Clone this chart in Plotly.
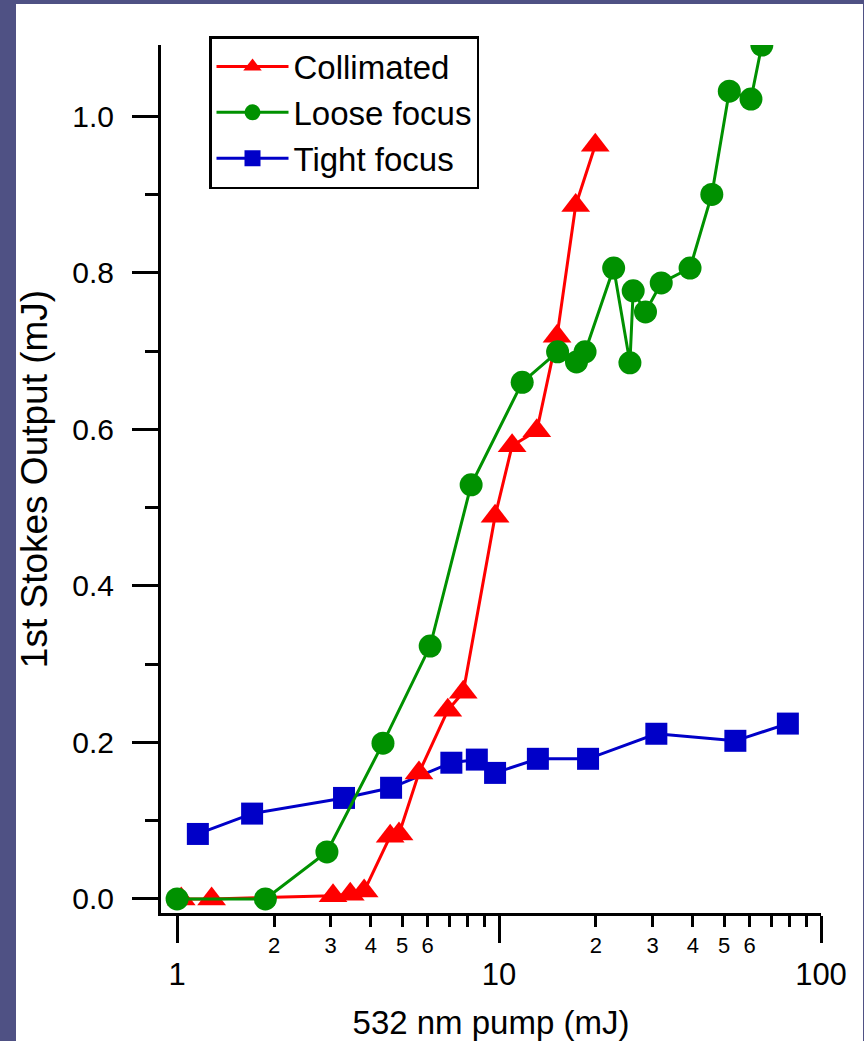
import plotly.graph_objects as go

# ---- data ----
coll_x = [1.03, 1.28, 3.05, 3.45, 3.81, 4.59, 4.89, 5.64, 6.93, 7.74, 9.72, 10.98, 13.1, 15.14, 17.3, 19.9]
coll_y = [0.0, 0.0, 0.004, 0.006, 0.01, 0.080, 0.083, 0.161, 0.241, 0.264, 0.489, 0.579, 0.598, 0.719, 0.886, 0.963]

loose_x = [1.0, 1.88, 2.92, 4.36, 6.11, 8.19, 11.8, 15.2, 17.4, 18.5, 22.7, 25.5, 26.1, 28.5, 31.9, 39.2, 45.8, 51.9, 60.6, 65.5]
loose_y = [0.0, 0.0, 0.060, 0.199, 0.323, 0.529, 0.660, 0.699, 0.686, 0.699, 0.806, 0.685, 0.777, 0.750, 0.787, 0.806, 0.900, 1.032, 1.022, 1.091]

tight_x = [1.16, 1.71, 3.30, 4.62, 7.11, 8.53, 9.72, 13.2, 18.9, 30.8, 54.2, 78.9]
tight_y = [0.083, 0.109, 0.129, 0.142, 0.174, 0.178, 0.161, 0.179, 0.179, 0.211, 0.202, 0.224]

x_major_vals = [1, 10, 100]
x_major_text = ["1", "10", "100"]
x_minor_vals = [2, 3, 4, 5, 6, 7, 8, 9, 20, 30, 40, 50, 60, 70, 80, 90]
x_minor_text = ["2", "3", "4", "5", "6", "", "", "", "2", "3", "4", "5", "6", "", "", ""]
y_tick_vals = [0.0, 0.2, 0.4, 0.6, 0.8, 1.0]

RED = "#ff0000"
GREEN = "#009100"
BLUE = "#0000c8"
BG = "#4f5184"
FONT = "Liberation Sans, Arial, sans-serif"

fig = go.Figure()
fig.add_trace(go.Scatter(x=tight_x, y=tight_y, name="Tight focus", mode="lines+markers",
                         line=dict(color=BLUE, width=3),
                         marker=dict(symbol="square", size=22, color=BLUE),
                         legendrank=3))
fig.add_trace(go.Scatter(x=coll_x, y=coll_y, name="Collimated", mode="lines+markers",
                         line=dict(color=RED, width=3),
                         marker=dict(symbol="triangle-up", size=25, color=RED),
                         legendrank=1))
fig.add_trace(go.Scatter(x=loose_x, y=loose_y, name="Loose focus", mode="lines+markers",
                         line=dict(color=GREEN, width=3),
                         marker=dict(symbol="circle", size=23, color=GREEN),
                         legendrank=2))

# white slide area over the dark border
fig.add_shape(type="rect", xref="paper", yref="paper",
              x0=(16 - 161) / 660, x1=(863 - 161) / 660,
              y0=(913 - 1045) / 868, y1=(913 - 4) / 868,
              fillcolor="white", line=dict(width=0), layer="below")

fig.update_layout(
    width=864, height=1041,
    template="none",
    paper_bgcolor=BG, plot_bgcolor="white",
    margin=dict(l=161, r=43, t=45, b=128, autoexpand=False),
    font=dict(family=FONT, color="black", size=30),
    showlegend=True,
    legend=dict(x=(209 - 161) / 660, y=(913 - 36) / 868, xanchor="left", yanchor="top",
                bgcolor="white", bordercolor="black", borderwidth=2.5,
                font=dict(size=33, family=FONT), itemwidth=72,
                tracegroupgap=0),
    xaxis=dict(type="log", range=[-0.05, 2.0], tickvals=x_major_vals, ticktext=x_major_text,
               ticks="outside", ticklen=27, tickwidth=3, tickcolor="black",
               showline=True, linewidth=3, linecolor="black", showgrid=False, zeroline=False,
               tickfont=dict(size=31), ticklabelstandoff=5, automargin=False,
               title=dict(text="532 nm pump (mJ)", font=dict(size=33), standoff=20)),
    xaxis2=dict(type="log", range=[-0.05, 2.0], overlaying="x", anchor="y", side="bottom",
                tickvals=x_minor_vals, ticktext=x_minor_text,
                ticks="outside", ticklen=13, tickwidth=3, tickcolor="black",
                showline=False, showgrid=False, zeroline=False,
                tickfont=dict(size=22), ticklabelstandoff=0, automargin=False),
    yaxis=dict(range=[-0.018, 1.091], tickvals=y_tick_vals, tickformat=".1f",
               ticks="outside", ticklen=26, tickwidth=3, tickcolor="black",
               minor=dict(dtick=0.1, tick0=0, ticks="outside", ticklen=13, tickwidth=3, tickcolor="black"),
               showline=True, linewidth=3, linecolor="black", showgrid=False, zeroline=False,
               tickfont=dict(size=30), ticklabelstandoff=12, automargin=False,
               title=dict(text="1st Stokes Output (mJ)", font=dict(size=37), standoff=14)),
)

# dummy trace to make xaxis2 render
fig.add_trace(go.Scatter(x=[10], y=[None], xaxis="x2", yaxis="y", showlegend=False,
                         hoverinfo="skip", mode="markers"))

fig.write_html("out.html")
